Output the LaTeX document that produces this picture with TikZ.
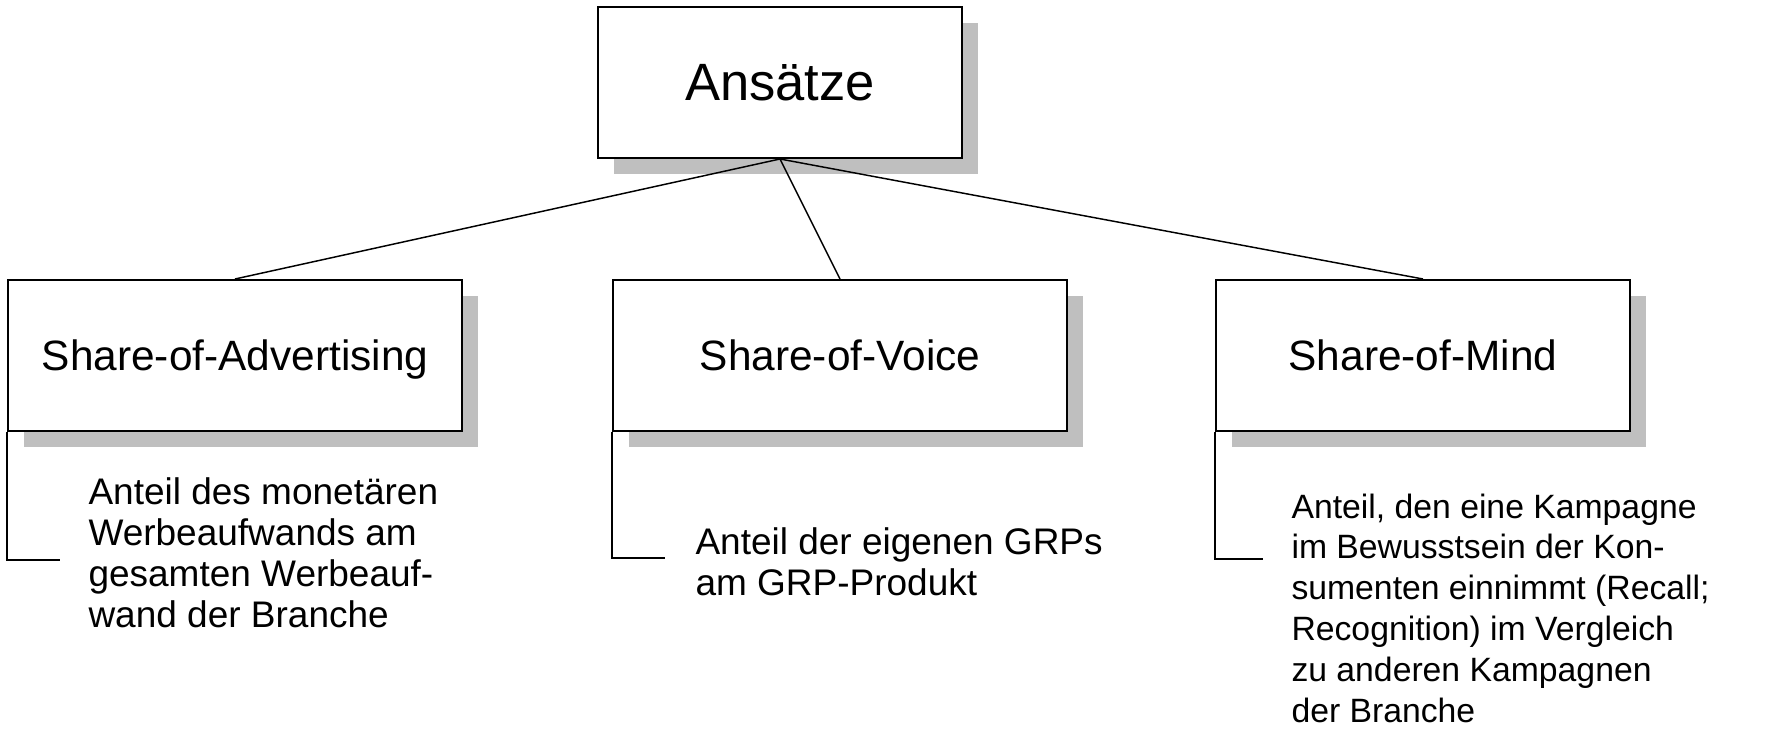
\documentclass[tikz,border=0pt]{standalone}
\usepackage{fontspec}
\setmainfont{Liberation Sans}
\usetikzlibrary{shadows}

\tikzset{every picture/.style={line width=0.75pt}}
\tikzset{
  ansatzbox/.style={draw, line width=1.5pt, fill=white, inner sep=0pt,
    minimum height=113.25pt, text depth=0pt,
    drop shadow={shadow xshift=12pt, shadow yshift=-12pt, fill={rgb, 255:red, 191; green, 191; blue, 191 }, opacity=1}},
  desctext/.style={anchor=base west, inner sep=0pt, align=left},
  branch/.style={line width=1.1pt}
}

\begin{document}
\begin{tikzpicture}[x=0.75pt,y=0.75pt,yscale=-1,xscale=1]
\useasboundingbox (0,0) rectangle (1773,745);

%Shape: Boxes
\node [ansatzbox, minimum width=273pt, font=\fontsize{39.4}{47}\selectfont] (ansatz) at (780,82.5) {Ansätze};
\node [ansatzbox, minimum width=340.5pt, font=\fontsize{31.8}{38}\selectfont] (adv) at (235,355.5) {Share-of-Advertising};
\node [ansatzbox, minimum width=340.5pt, font=\fontsize{31.8}{38}\selectfont] (voice) at (840,355.5) {Share-of-Voice};
\node [ansatzbox, minimum width=310.5pt, font=\fontsize{31.8}{38}\selectfont] (mind) at (1423,355.5) {Share-of-Mind};

%Shape: Lines
\draw [branch] (ansatz.south) -- (adv.north) ;
\draw [branch] (ansatz.south) -- (voice.north) ;
\draw [branch] (ansatz.south) -- (mind.north) ;

% Text Node (base = last line)
\node [desctext, font=\fontsize{27.75}{30.6}\selectfont] (advtext) at (88,627) {Anteil des monetären\\Werbeaufwands am\\gesamten Werbeauf-\\wand der Branche};
% Text Node
\node [desctext, font=\fontsize{27.75}{30.6}\selectfont] (voicetext) at (695,595) {Anteil der eigenen GRPs\\am GRP-Produkt};
% Text Node
\node [desctext, font=\fontsize{25.3}{30.6}\selectfont] (mindtext) at (1291,722) {Anteil, den eine Kampagne\\im Bewusstsein der Kon-\\sumenten einnimmt (Recall;\\Recognition) im Vergleich\\zu anderen Kampagnen\\der Branche};

%Shape: Brackets
\coordinate (advend) at (60,560) ;
\coordinate (voiceend) at (665,558) ;
\coordinate (mindend) at (1263,559) ;
\draw [branch] (adv.south west) |- (advend) ;
\draw [branch] (voice.south west) |- (voiceend) ;
\draw [branch] (mind.south west) |- (mindend) ;

\end{tikzpicture}
\end{document}
